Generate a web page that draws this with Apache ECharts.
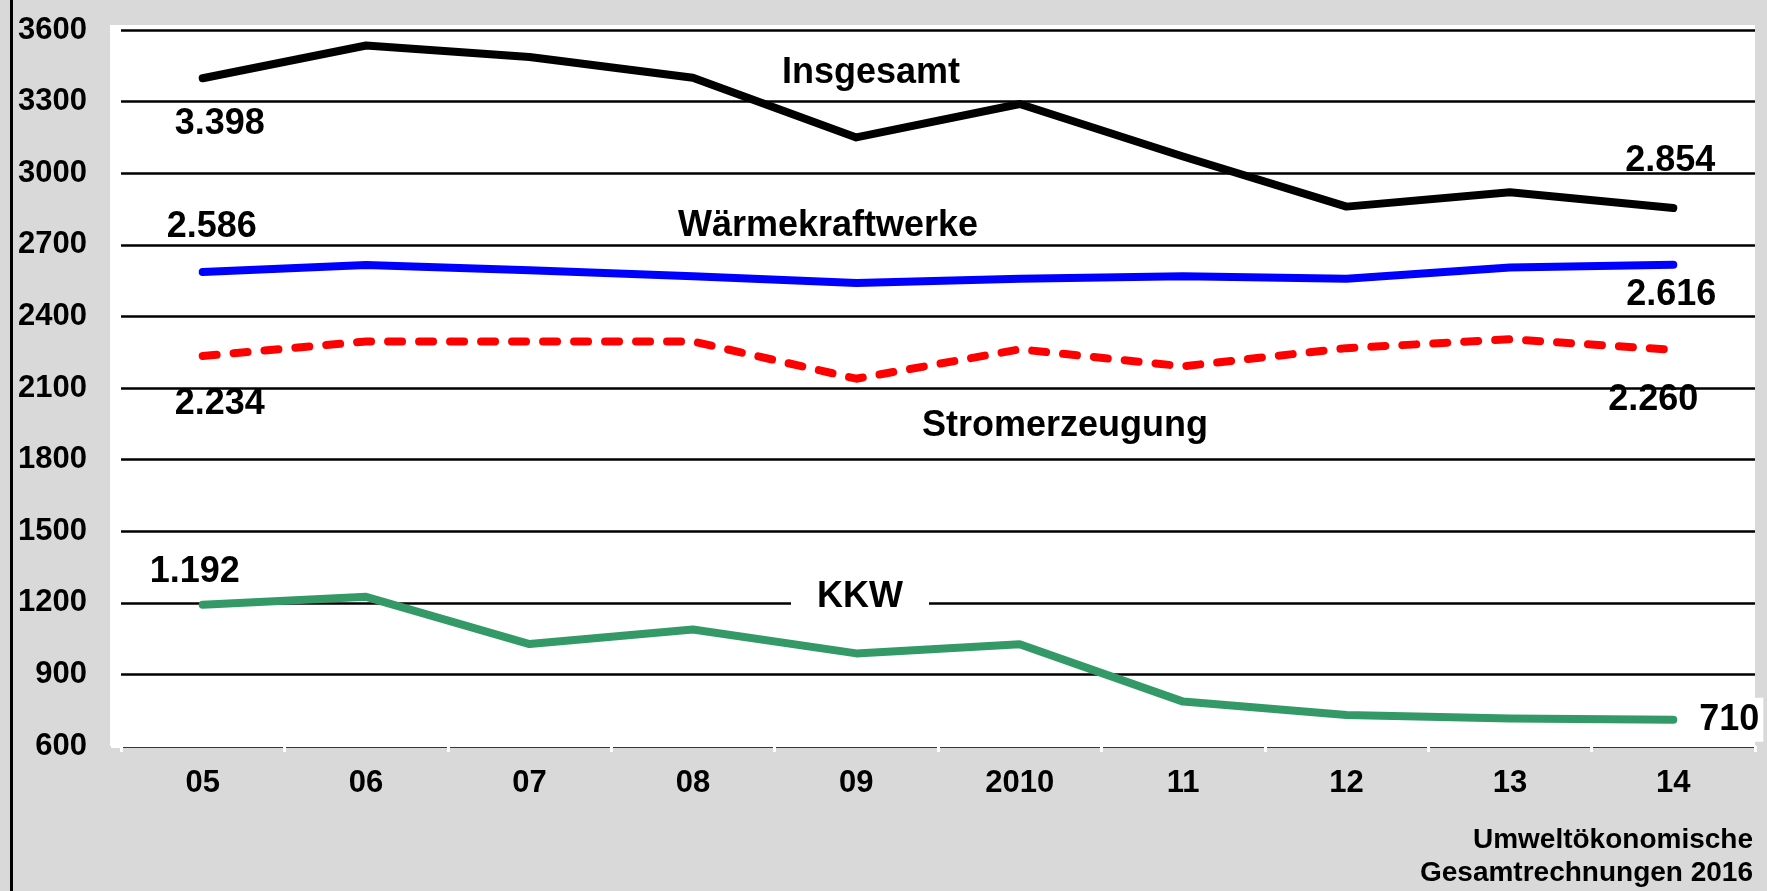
<!DOCTYPE html>
<html>
<head>
<meta charset="utf-8">
<title>Energieverbrauch</title>
<script src="https://cdn.jsdelivr.net/npm/echarts@6/dist/echarts.min.js"></script>
<style>
    html, body { margin: 0; padding: 0; background: #d9d9d9; }
    #chart { width: 1767px; height: 891px; }
</style>
</head>
<body>
<div id="chart"></div>
<script>
// Kategorien (Jahre)
const years = ['05', '06', '07', '08', '09', '2010', '11', '12', '13', '14']
// Reihenwerte
const insgesamt = [3398, 3535, 3487, 3400, 3150, 3290, 3070, 2860, 2920, 2854]
const waermekraftwerke = [2586, 2615, 2593, 2568, 2540, 2558, 2568, 2558, 2605, 2616]
const stromerzeugung = [2234, 2295, 2295, 2295, 2139, 2262, 2191, 2267, 2304, 2260]
const kkw = [1192, 1225, 1027, 1088, 988, 1026, 786, 730, 715, 710]
// Achse
const yMin = 600
const yMax = 3600
const yStep = 300

const FONT = '"Liberation Sans", Arial, sans-serif'

// deutsches Tausendertrennzeichen
function fmt(v) {
    return String(v).replace(/\B(?=(\d{3})+(?!\d))/g, '.')
}

// nur erster und letzter Wert bekommen ein Label
function withEndLabels(values, firstOffset, lastOffset, lastExtra) {
    return values.map((v, i) => {
        if (i === 0) {
            return { value: v, label: { show: true, offset: firstOffset } }
        }
        if (i === values.length - 1) {
            return { value: v, label: Object.assign({ show: true, offset: lastOffset }, lastExtra || {}) }
        }
        return v
    })
}

function lineSeries(name, values, color, lineExtra) {
    return {
        name: name,
        type: 'line',
        data: values,
        showSymbol: true,
        symbol: 'circle',
        symbolSize: 0,
        itemStyle: { color: color },
        lineStyle: Object.assign({ color: color, width: 8, cap: 'round', join: 'round' }, lineExtra || {}),
        label: {
            show: false,
            position: 'inside',
            formatter: p => fmt(p.value),
            color: '#000',
            fontFamily: FONT,
            fontWeight: 'bold',
            fontSize: 36
        },
        emphasis: { disabled: true },
        animation: false
    }
}

const chart = echarts.init(document.getElementById('chart'))

chart.setOption({
    backgroundColor: '#d9d9d9',
    grid: { left: 121, right: 12, top: 30, bottom: 145 },
    xAxis: {
        type: 'category',
        data: years,
        boundaryGap: true,
        axisLine: { lineStyle: { color: '#ffffff', width: 2 } },
        axisTick: { show: true, length: 6, lineStyle: { color: '#ffffff', width: 3 } },
        axisLabel: {
            color: '#000',
            fontFamily: FONT,
            fontWeight: 'bold',
            fontSize: 31,
            margin: 22
        },
        splitLine: { show: false }
    },
    yAxis: {
        type: 'value',
        min: yMin,
        max: yMax,
        interval: yStep,
        axisLine: { show: false },
        axisTick: { show: true, length: 10, lineStyle: { color: '#ffffff', width: 3 } },
        axisLabel: {
            color: '#000',
            fontFamily: FONT,
            fontWeight: 'bold',
            fontSize: 31,
            margin: 34,
            formatter: v => String(v)
        },
        splitLine: { lineStyle: { color: '#000', width: 2.5 } }
    },
    graphic: [
        // weisse Zeichenfläche
        { type: 'rect', z: -10, silent: true, shape: { x: 110, y: 25, width: 1645, height: 721 }, style: { fill: '#ffffff' } },
        // linker Rand
        { type: 'rect', z: 10, silent: true, shape: { x: 10, y: 0, width: 3, height: 891 }, style: { fill: '#000' } },
        // Reihennamen
        { type: 'text', z: 10, x: 871, y: 73, style: { text: 'Insgesamt', font: 'bold 36px ' + FONT, fill: '#000', align: 'center', verticalAlign: 'middle' } },
        { type: 'text', z: 10, x: 828, y: 226, style: { text: 'Wärmekraftwerke', font: 'bold 36px ' + FONT, fill: '#000', align: 'center', verticalAlign: 'middle' } },
        { type: 'text', z: 10, x: 1065, y: 426, style: { text: 'Stromerzeugung', font: 'bold 36px ' + FONT, fill: '#000', align: 'center', verticalAlign: 'middle' } },
        { type: 'text', z: 10, x: 860, y: 597, style: { text: 'KKW', font: 'bold 36px ' + FONT, fill: '#000', align: 'center', verticalAlign: 'middle', backgroundColor: '#ffffff', padding: [6, 26, 6, 26] } },
        // Quelle
        { type: 'text', z: 10, x: 1753, y: 840, style: { text: 'Umweltökonomische', font: 'bold 28px ' + FONT, fill: '#000', align: 'right', verticalAlign: 'middle' } },
        { type: 'text', z: 10, x: 1753, y: 873, style: { text: 'Gesamtrechnungen 2016', font: 'bold 28px ' + FONT, fill: '#000', align: 'right', verticalAlign: 'middle' } }
    ],
    series: [
        lineSeries('Insgesamt', withEndLabels(insgesamt, [17, 46], [-3, -47]), '#000000'),
        lineSeries('Wärmekraftwerke', withEndLabels(waermekraftwerke, [9, -45], [-2, 30]), '#0000ff'),
        lineSeries('Stromerzeugung', withEndLabels(stromerzeugung, [17, 48], [-20, 50]), '#ff0000', { type: [14, 17] }),
        lineSeries('KKW', withEndLabels(kkw, [-8, -33], [54, 0], { backgroundColor: '#ffffff', padding: [4, 4, 4, 8] }), '#339966')
    ]
})
</script>
</body>
</html>
